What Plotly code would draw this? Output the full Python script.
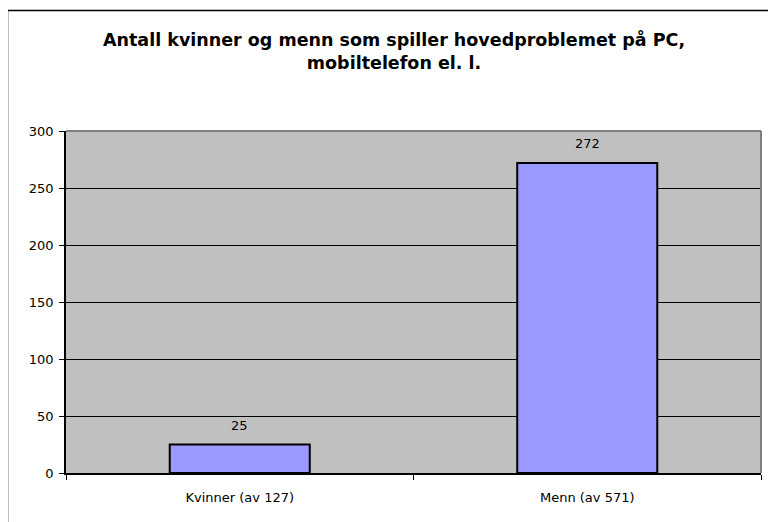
import plotly.graph_objects as go

categories = ["Kvinner (av 127)", "Menn (av 571)"]
values = [25, 272]
y_ticks = [0, 50, 100, 150, 200, 250, 300]
title_lines = ["Antall kvinner og menn som spiller hovedproblemet på PC,", "mobiltelefon el. l."]

OFF = 8  # page body margin
W, H = 776, 522
# target page pixel positions of the plot area
PL, PR, PT, PB = 66, 761, 131, 473
L, T = PL - OFF, PT - OFF
R = W - (PR - OFF)
B = H - (PB - OFF)
pw, ph = PR - PL, PB - PT

def px_x(p):
    return (p - PL) / pw

def px_y(p):
    return (PB - p) / ph

FONT = "DejaVu Sans, Verdana, sans-serif"

fig = go.Figure()
fig.add_trace(go.Bar(
    x=categories, y=values,
    marker=dict(color="#9999FF", line=dict(color="#000000", width=2)),
    hoverinfo="skip",
))

for c, v in zip(categories, values):
    fig.add_annotation(x=c, y=v, xref="x", yref="y", text=str(v), showarrow=False,
                       yanchor="bottom", yshift=10, font=dict(family=FONT, size=13, color="#000"))

fig.add_annotation(x=px_x(394), y=px_y(51), xref="paper", yref="paper",
                   text="<b>" + "<br>".join(title_lines) + "</b>", showarrow=False,
                   xanchor="center", yanchor="middle",
                   font=dict(family=FONT, size=17.5, color="#000"))

# outer frame
fig.add_shape(type="rect", xref="paper", yref="paper",
              x0=px_x(7.5), x1=px_x(820), y0=px_y(560), y1=px_y(10.5),
              line=dict(color="#000", width=1.5), layer="below")
# plot-area border top and right (gray)
fig.add_shape(type="line", xref="paper", yref="paper", x0=0, x1=1, y0=1, y1=1,
              line=dict(color="#808080", width=2), layer="above")
fig.add_shape(type="line", xref="paper", yref="paper", x0=1, x1=1, y0=0, y1=1,
              line=dict(color="#808080", width=2), layer="above")

fig.update_layout(
    width=W, height=H,
    margin=dict(l=L, r=R, t=T, b=B, pad=0),
    paper_bgcolor="#FFFFFF", plot_bgcolor="#C0C0C0",
    showlegend=False, bargap=0.597,
    font=dict(family=FONT, size=13, color="#000"),
    xaxis=dict(type="category", tickson="boundaries", ticks="outside", ticklen=5,
               tickcolor="#000", showgrid=False, showline=True, linecolor="#000",
               linewidth=2, zeroline=False, ticklabelstandoff=11,
               tickfont=dict(family=FONT, size=13, color="#000")),
    yaxis=dict(range=[0, 300], tickvals=y_ticks, ticks="outside", ticklen=5,
               tickcolor="#000", showgrid=True, gridcolor="#000", gridwidth=1,
               showline=True, linecolor="#000", linewidth=1.5, zeroline=False,
               ticklabelstandoff=3,
               tickfont=dict(family=FONT, size=13, color="#000")),
)

fig.write_html("out.html")
